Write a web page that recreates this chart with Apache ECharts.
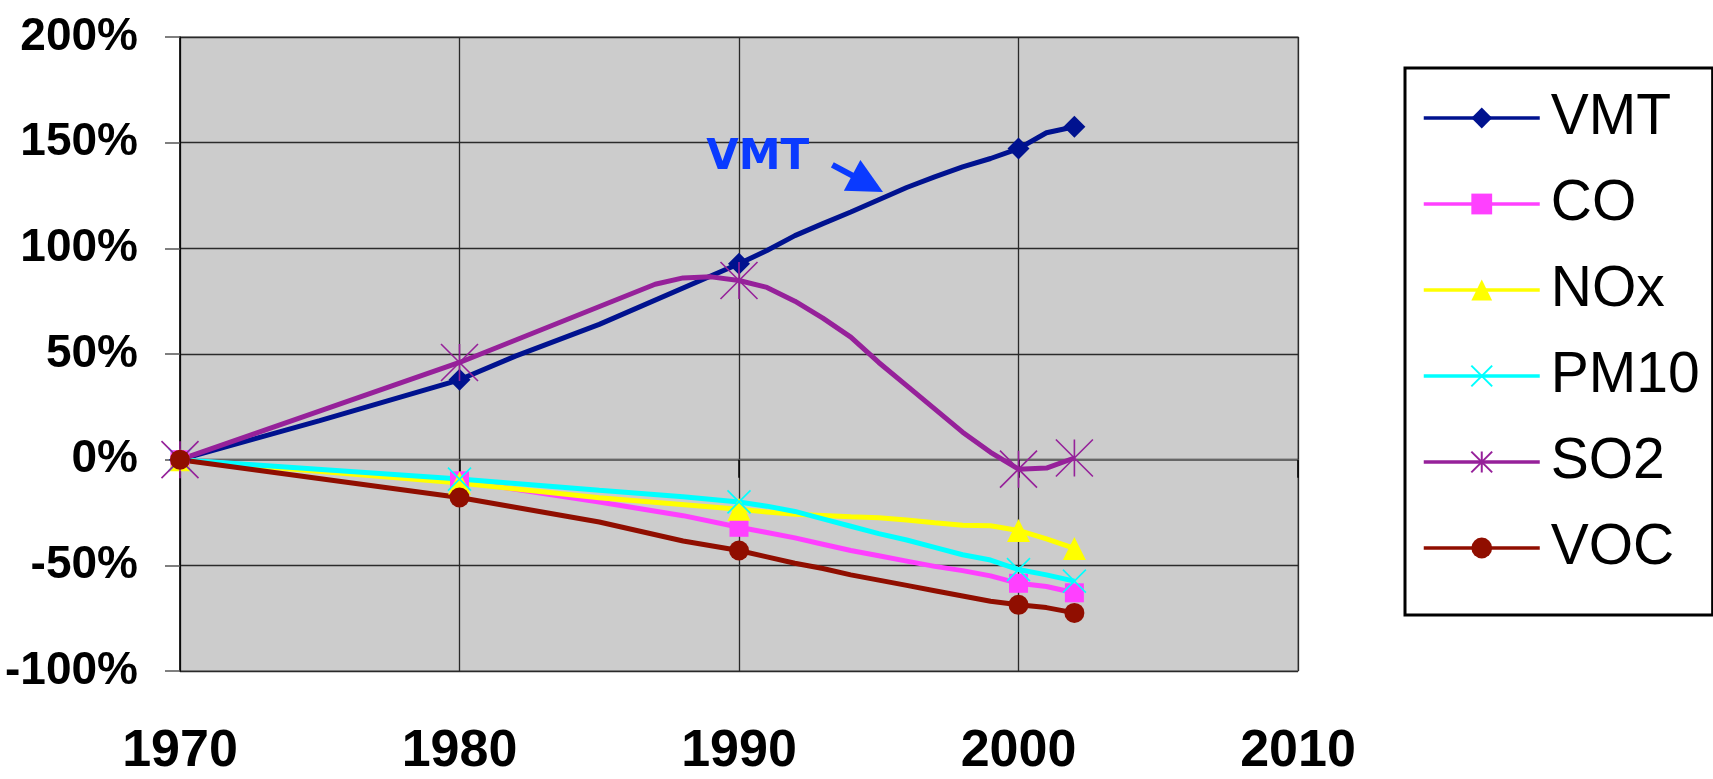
<!DOCTYPE html>
<html>
<head>
<meta charset="utf-8">
<script src="https://cdn.jsdelivr.net/npm/echarts@6/dist/echarts.min.js"></script>
<style>
html,body{margin:0;padding:0;background:#fff;}
#chart{width:1713px;height:779px;}
</style>
</head>
<body>
<div id="chart"></div>
<script>
// ---- data (percent change since 1970) ----
const markerYears = [1970, 1980, 1990, 2000, 2002];
const xTicks = [1970, 1980, 1990, 2000, 2010];

const vmtYears = [1970,1975,1980,1982,1985,1990,1991,1992,1993,1994,1995,1996,1997,1998,1999,2000,2001,2002];
const vmtValues = [0,18.5,37.8,49,64,92.7,99,106,111.7,117.2,123,128.8,133.8,138.5,142.5,147.2,154.7,157.5];

const coYears = [1970,1980,1985,1988,1990,1991,1992,1993,1994,1995,1996,1997,1998,1999,2000,2001,2002];
const coValues = [0,-10,-20,-26.5,-32,-34.5,-37,-40,-43,-45.5,-48,-50.5,-52.5,-55,-58.5,-60,-63];

const noxYears = [1970,1980,1985,1990,1991,1992,1993,1994,1995,1996,1997,1998,1999,2000,2001,2002];
const noxValues = [0,-11,-18,-23.5,-24.8,-25.8,-26.4,-27,-27.5,-28.5,-29.8,-31,-31.3,-33.5,-37.5,-42];

const pmYears = [1970,1980,1985,1988,1990,1991,1992,1993,1994,1995,1996,1997,1998,1999,2000,2001,2002];
const pmValues = [0,-9.2,-14.5,-17.5,-20,-22,-24.5,-28,-31.5,-35,-38,-41.5,-45,-47.5,-52,-54.5,-57.5];

const so2Years = [1970,1980,1987,1988,1989,1990,1991,1992,1993,1994,1995,1996,1997,1998,1999,2000,2001,2002];
const so2Values = [0,46,83,86,86.5,84.8,81.5,75,67,58,46,35,24,13,3.5,-4.5,-4,0.8];

const vocYears = [1970,1980,1985,1988,1990,1991,1992,1993,1994,1995,1996,1997,1998,1999,2000,2001,2002];
const vocValues = [0,-17.9,-29.5,-38.5,-43,-46,-49,-51.5,-54.5,-57,-59.5,-62,-64.5,-67,-68.7,-70,-72.5];

// annotation anchors (data coordinates)
const annotationText = [1988.83, 142.6];
const annotationArrowFrom = [1993.34, 139.5];
const annotationArrowTo = [1994.6, 130.6];

function buildData(years, values) {
  return years.map((y, i) => markerYears.indexOf(y) >= 0
    ? [y, values[i]]
    : { value: [y, values[i]], symbol: 'none' });
}

const FONT = '"Liberation Sans", Arial, sans-serif';
const X_PATH = 'path://M0,0 L10,10 M10,0 L0,10';
const STAR_PATH = 'path://M0,0 L10,10 M10,0 L0,10 M5,0 L5,10';

function lineSeries(name, years, values, color, symbol, size, stroked) {
  return {
    name: name,
    type: 'line',
    xAxisIndex: 0,
    yAxisIndex: 0,
    data: buildData(years, values),
    symbol: symbol,
    symbolSize: size,
    showAllSymbol: true,
    clip: false,
    lineStyle: { color: color, width: 5 },
    itemStyle: stroked
      ? { color: 'rgba(0,0,0,0)', borderColor: color, borderWidth: 1.6 }
      : { color: color, borderWidth: 0 },
    emphasis: { disabled: true },
    animation: false
  };
}

const chart = echarts.init(document.getElementById('chart'), null, { renderer: 'canvas' });

const series = [
  lineSeries('VMT', vmtYears, vmtValues, '#00128F', 'diamond', 22, false),
  lineSeries('CO', coYears, coValues, '#FF40FF', 'rect', 19, false),
  lineSeries('NOx', noxYears, noxValues, '#FFFF00', 'triangle', [23, 23], false),
  lineSeries('PM10', pmYears, pmValues, '#00FFFF', X_PATH, 23, true),
  lineSeries('SO2', so2Years, so2Values, '#96219A', STAR_PATH, 37, true),
  lineSeries('VOC', vocYears, vocValues, '#900E00', 'circle', 20, false)
];

// annotation arrow pointing at VMT line
series[0].markLine = {
  silent: true,
  animation: false,
  symbol: ['none', 'triangle'],
  symbolSize: [35, 35],
  label: { show: false },
  lineStyle: { color: '#0A3AFF', width: 6, type: 'solid' },
  data: [[{ coord: annotationArrowFrom }, { coord: annotationArrowTo }]]
};

chart.setOption({
  backgroundColor: '#ffffff',
  animation: false,
  grid: {
    left: 180, top: 37, right: 415, bottom: 108,
    show: true, backgroundColor: '#cccccc',
    borderColor: '#888888', borderWidth: 1.5
  },
  xAxis: [
    {
      type: 'value', min: 1970, max: 2010, interval: 10, position: 'bottom',
      axisLine: { show: false, onZero: false },
      axisTick: { show: false },
      splitLine: { show: true, lineStyle: { color: '#2a2a2a', width: 1.3 } },
      axisLabel: {
        show: true, margin: 55, fontSize: 52, fontWeight: 'bold',
        fontFamily: FONT, color: '#000000',
        formatter: function (v) { return String(v); }
      }
    },
    {
      type: 'value', min: 1970, max: 2010, interval: 10, position: 'bottom',
      axisLine: { show: true, onZero: true, lineStyle: { color: '#666666', width: 2 } },
      axisTick: { show: true, length: 18, lineStyle: { color: '#000000', width: 1.5 } },
      axisLabel: { show: false },
      splitLine: { show: false }
    }
  ],
  yAxis: {
    type: 'value', min: -100, max: 200, interval: 50,
    axisLine: { show: true, onZero: false, lineStyle: { color: '#000000', width: 1.5 } },
    axisTick: { show: true, length: 15, lineStyle: { color: '#555555', width: 1.5 } },
    splitLine: { show: true, lineStyle: { color: '#2a2a2a', width: 1.3 } },
    axisLabel: {
      margin: 42, fontSize: 46, fontWeight: 'bold', fontFamily: FONT, color: '#000000',
      padding: [0, 0, 22, 0],
      formatter: '{value}%'
    }
  },
  legend: {
    orient: 'vertical',
    left: 1405, top: 68,
    itemWidth: 116, itemHeight: 26, itemGap: 26,
    padding: [20, 13, 37, 17],
    borderColor: '#000000', borderWidth: 3,
    backgroundColor: '#ffffff',
    selectedMode: false,
    lineStyle: { width: 3.5 },
    textStyle: {
      fontSize: 57, fontFamily: FONT, color: '#000000',
      lineHeight: 60, padding: [0, 0, 0, 6]
    },
    data: ['VMT', 'CO', 'NOx', 'PM10', 'SO2', 'VOC']
  },
  series: series
});

// "VMT" annotation text, anchored in data coordinates
const p = chart.convertToPixel({ gridIndex: 0 }, annotationText);
chart.setOption({
  graphic: [{
    type: 'text', x: p[0], y: p[1], silent: true,
    style: {
      text: 'VMT', fill: '#0A3AFF',
      font: 'bold 42px "DejaVu Sans", sans-serif',
      textVerticalAlign: 'middle', textAlign: 'left'
    }
  }]
});
</script>
</body>
</html>
